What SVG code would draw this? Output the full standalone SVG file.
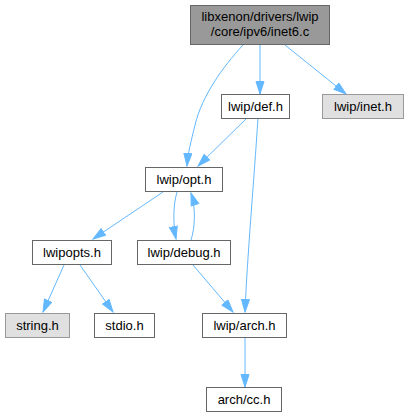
<svg xmlns="http://www.w3.org/2000/svg" width="408" height="417" viewBox="0 0 408 417">
<style>
.n rect{fill:#ffffff;stroke:#666666;stroke-width:1}
.g rect{fill:#e0e0e0;stroke:#999999;stroke-width:1}
.r rect{fill:#999999;stroke:#666666;stroke-width:1}
text{font-family:"Liberation Sans",Arial,sans-serif;font-size:13px;fill:#000000;text-anchor:middle}
.e path{fill:none;stroke:#63b8ff;stroke-width:1;marker-end:url(#ah)}
</style>
<defs>
<marker id="ah" markerUnits="userSpaceOnUse" markerWidth="14" markerHeight="10" refX="13" refY="4.5" orient="auto" viewBox="0 0 14 10">
<path d="M0.5,0.5 L13,4.5 L0.5,8.5 z" fill="#63b8ff" stroke="#63b8ff" stroke-width="1"/>
</marker>
</defs>
<g id="edges" class="e">
<path d="M243,45 C222,68 202,96 195,125 C191,142 188,152 187,166"/>
<path d="M260,45 L260,94"/>
<path d="M285,45 L346,94"/>
<path d="M247,118 L198,166"/>
<path d="M258,118 C254,180 247,260 245,312"/>
<path d="M163,192 L93,239"/>
<path d="M177,192 C173,205 173,225 176,239"/>
<path d="M191,240 C195,228 196,208 191,193"/>
<path d="M64,265 L43,312"/>
<path d="M80,265 L113,312"/>
<path d="M193,265 L233,312"/>
<path d="M245,338 L245,387"/>
</g>
<g id="root" class="r"><rect x="190.5" y="5.5" width="139" height="39"/><text x="260" y="21">libxenon/drivers/lwip</text><text x="260" y="36">/core/ipv6/inet6.c</text></g>
<g id="def" class="n"><rect x="221.5" y="94.5" width="68" height="24"/><text x="255.5" y="111">lwip/def.h</text></g>
<g id="inet" class="g"><rect x="322.5" y="94.5" width="81" height="24"/><text x="363" y="111">lwip/inet.h</text></g>
<g id="opt" class="n"><rect x="145.5" y="167.5" width="77" height="24"/><text x="184" y="184">lwip/opt.h</text></g>
<g id="lwipopts" class="n"><rect x="32.5" y="240.5" width="79" height="24"/><text x="72" y="257">lwipopts.h</text></g>
<g id="debug" class="n"><rect x="137.5" y="240.5" width="93" height="24"/><text x="184" y="257">lwip/debug.h</text></g>
<g id="string" class="g"><rect x="5.5" y="313.5" width="64" height="24"/><text x="37.5" y="330">string.h</text></g>
<g id="stdio" class="n"><rect x="94.5" y="313.5" width="60" height="24"/><text x="124.5" y="330">stdio.h</text></g>
<g id="arch" class="n"><rect x="202.5" y="313.5" width="84" height="24"/><text x="244.5" y="330">lwip/arch.h</text></g>
<g id="cc" class="n"><rect x="206.5" y="387.5" width="75" height="24"/><text x="244" y="404">arch/cc.h</text></g>
</svg>
